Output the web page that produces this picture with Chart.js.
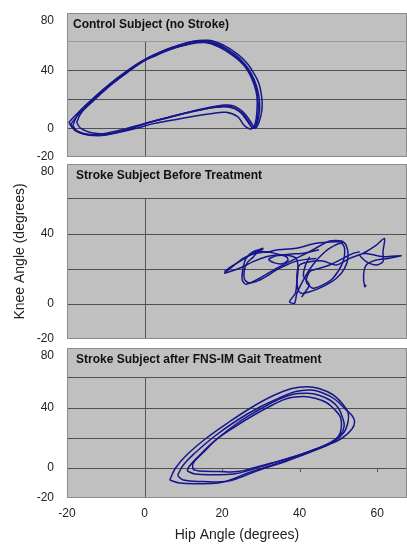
<!DOCTYPE html>
<html><head><meta charset="utf-8">
<script src="https://cdn.jsdelivr.net/npm/chart.js@4.4.1/dist/chart.umd.min.js"></script>
<style>
html,body{margin:0;padding:0;background:#fff;overflow:hidden;width:407px;height:544px;}
canvas{position:absolute;left:0;}
</style></head><body>
<canvas id="c1" width="407" height="170" style="top:0px"></canvas>
<canvas id="c2" width="407" height="195" style="top:155px"></canvas>
<canvas id="c3" width="407" height="204" style="top:340px"></canvas>
<script>
// ---- axis ticks ----
const yTickValues = [-20, 0, 20, 40, 60, 80];
const yLabelValues = [-20, 0, 40, 80];
const yGridValues = [0, 20, 40, 60];
const xTickValues = [-20, 0, 20, 40, 60];

// ---- panel titles ----
const panelTitles = [
  'Control Subject (no Stroke)',
  'Stroke Subject Before Treatment',
  'Stroke Subject after FNS-IM Gait Treatment'
];

// ---- Control subject: hip/knee cycles [hip, knee] ----
const control1 = [[-19,3],[-18,-1.5],[-15.5,-4],[-12,-5],[-8,-3.5],[-4,-0.5],[0,3],[5,6.5],[10,10],[15,13],[19.5,15],[22.5,15],[25,11],[27,4],[28,0],[29,3],[29.7,13],[29.5,22],[28.8,30],[27.5,38],[26,44],[23.5,51],[20,57],[16,60.5],[12,59],[7,55],[3,50.5],[0,47],[-5,37.5],[-10,27],[-14,17],[-17,9.5],[-19,3]];
const control2 = [[-18.5,2],[-17.5,-2],[-15,-4.5],[-11,-5],[-7,-3],[-3,0],[1,4],[6,7.5],[11,11],[16,14],[20,16],[23,15.5],[25.5,11],[27.5,4],[28.5,0],[29.5,4],[30.3,13],[30.2,22],[29.5,31],[28,39],[26.5,45],[24,51.5],[20.5,57.5],[16.5,61],[12,60],[7,56],[3,51.5],[0,47.5],[-5,38.5],[-10,28],[-14,18.5],[-17,10.5],[-18.5,2]];
const control3 = [[-17.5,4],[-16.5,0],[-14,-3],[-10,-4],[-6,-2.5],[-2,0],[2,3],[7,5.5],[12,8],[17,10],[21,11],[24,8],[25.8,1.6],[27.5,-0.5],[28.5,3],[29,12],[29,22],[28.3,30],[27,38],[25.5,44],[23,50],[19.5,56],[15.5,59.5],[11,58],[6,54.5],[2,49.5],[-1,45.5],[-6,36],[-11,25],[-14.5,16.5],[-16.5,10],[-17.5,4]];
const control4 = [[-19.5,4],[-18.5,0],[-16,-3.5],[-13,-4.5],[-9,-3],[-5,-0.5],[-1,2.5],[4,6],[9,9.5],[14,12.5],[18.5,14.5],[22,14.5],[24.5,11.5],[26.5,5],[27.8,0.5],[28.8,3],[29.3,12],[29.2,21],[28.6,30],[27.2,38.5],[25.5,45],[22.5,52],[18.5,58],[14,60.5],[9.5,58],[5,54],[1,49],[-2,44.5],[-7,35],[-11.5,25],[-15,16.5],[-18,8.5],[-19.5,4]];

// ---- Stroke subject before treatment: scribbled trace [hip, knee] ----
const before1 = [[20.6,17.5],[25.4,26.1],[30.5,31.4],[28.0,29.9],[26.2,26.1],[25.4,20.4],[25.2,13.7],[26.2,11.3],[29.7,14.7],[34.0,20.4],[37.4,24.2],[42.6,29.9],[47.7,36.0],[50.8,36.0],[52.0,33.7],[52.5,27.0],[51.6,20.4],[49.5,14.7],[46.0,9.9],[42.6,7.0],[40.4,6.1],[39.6,8.0],[39.3,16.6],[40.0,22.3],[42.6,24.2],[46.0,24.6],[49.5,22.3],[52.9,26.1],[56.3,28.9],[59.8,33.7],[61.9,37.5],[61.5,29.9],[61.5,24.2],[59.8,22.3],[57.2,24.2],[55.5,28.0],[57.2,28.9],[61.5,27.0],[66.2,27.6],[63.2,26.1],[59.8,25.1],[57.2,22.3],[56.5,16.6],[56.8,9.9],[57.2,10.9]];
const before2 = [[20.6,17.5],[24.5,20.4],[28.0,24.2],[31.4,27.0],[34.0,28.0],[36.6,28.0],[39.1,26.1],[39.6,20.4],[39.3,12.8],[38.9,6.1],[37.4,1.3],[38.7,0.4],[39.3,6.1],[41.7,16.6],[43.4,22.3],[45.2,27.0],[47.7,31.8],[50.8,34.7],[51.6,31.8],[51.2,24.2],[48.6,14.7],[46.0,10.9],[43.4,9.0],[41.7,12.8],[42.6,18.5],[45.2,20.4],[47.7,22.3],[51.2,26.1],[53.8,28.9],[55.5,29.9]];
const before3 = [[27.1,28.0],[29.7,29.9],[32.3,29.9],[34.0,30.9],[39.1,31.8],[44.3,34.7],[49.5,35.6],[51.2,35.3]];
const before4 = [[20.6,18.5],[22.8,22],[25.8,26],[28.5,29.5],[30.5,31.8],[29.2,29.9],[27.9,26.5],[26.7,24.2],[25.8,20],[25.8,14],[27,12],[29.5,13.5],[32.3,17],[34.4,20],[36.6,22.3],[39.1,24.5],[41.7,25.5],[44.3,26]];
const before5 = [[27.9,28.5],[30.5,29.5],[32.3,29.5],[34.4,28.5],[36.6,27],[37,25],[35.5,23],[33.5,23.5],[32,25.5],[34,27.5],[37.4,28.5],[41,29],[45,31]];
const before6 = [[42.6,27],[41.5,22],[41,16],[42.5,11],[41.5,7],[40.5,4]];

// ---- Stroke subject after FNS-IM gait treatment: cycles [hip, knee] ----
const after1 = [[6.5,-8],[9,-10],[14,-10.5],[19,-10],[22,-8],[27,-3],[33,2],[39,7],[45,13],[49,18],[51.5,24],[52.5,31],[52.5,37],[51,43],[48.5,49],[45,53],[42,54.2],[38,53],[33,48],[28,41],[22,31],[16,20],[11,9],[8,0],[6.5,-8]];
const after2 = [[8.5,-5],[10,-8],[15,-9],[21,-9],[25,-6],[30,-1],[36,4],[42,10],[47,15],[51,20],[53.5,26],[54.2,31],[53.5,35],[51.5,40],[49,46],[46,50],[43,52],[39,51],[35,47],[30,41],[24,32],[18,21],[13,10],[10,2],[8.5,-5]];
const after3 = [[12.5,-1],[14,-2],[19,-2.3],[24,-2.4],[28,0],[33,3.5],[39,8],[44,12.5],[48,17],[50.5,22],[51.5,28],[51,34],[50,40],[48,45],[45,48.5],[42,49.8],[38,49],[34,45],[29,38],[24,30],[19,20],[15,10],[12.5,3],[12.5,-1]];
const after4 = [[11,-2],[13,-4],[18,-4.5],[23,-4],[27,-1.5],[32,2.5],[38,7],[43,11.5],[47.5,16],[50,21],[50.8,28],[50.5,34],[49,39],[47,43.5],[44,46.5],[41,47.6],[37,46.5],[33,42],[28,35],[23,27],[18,18],[14,8],[11.5,1],[11,-2]];

const FONT = '"Liberation Sans", Arial, Helvetica, sans-serif';
const LINE = 'rgb(22,22,140)';

const panelPlugin = {
  id: 'panel',
  beforeDraw(chart, args, o) {
    const {ctx, chartArea: a} = chart;
    ctx.save();
    ctx.fillStyle = '#c0c0c0';
    ctx.fillRect(a.left, a.top, a.right - a.left, a.bottom - a.top);
    ctx.restore();
  },
  beforeDatasetsDraw(chart, args, o) {
    const {ctx, chartArea: a, scales} = chart;
    const x = scales.x, y = scales.y;
    ctx.save();
    ctx.strokeStyle = '#555';
    ctx.lineWidth = 1;
    const x0 = Math.round(x.getPixelForValue(0)) + 0.5;
    ctx.beginPath();
    ctx.moveTo(x0, y.getPixelForValue(60));
    ctx.lineTo(x0, y.getPixelForValue(-20));
    ctx.stroke();
    if (o.zeroTicks) {
      const yz = Math.round(y.getPixelForValue(0));
      ctx.beginPath();
      xTickValues.forEach(v => {
        if (v === 0) return;
        const px = Math.round(x.getPixelForValue(v)) + 0.5;
        ctx.moveTo(px, yz); ctx.lineTo(px, yz + 4);
      });
      ctx.stroke();
    }
    ctx.strokeStyle = '#8c8c8c';
    ctx.strokeRect(a.left + 0.5, a.top + 0.5, a.right - a.left - 1, a.bottom - a.top - 1);
    ctx.fillStyle = '#111';
    ctx.font = 'bold 12px ' + FONT;
    ctx.textBaseline = 'middle';
    ctx.textAlign = 'left';
    ctx.fillText(o.title, a.left + o.dx, a.top + o.dy);
    ctx.restore();
  }
};

function series(list, tension) {
  return list.map(pts => ({
    data: pts.map(p => ({x: p[0], y: p[1]})),
    showLine: true, pointRadius: 0, borderColor: LINE, borderWidth: 1.5,
    tension: tension, fill: false
  }));
}

function yAxis(opts) {
  return {
    type: 'linear', min: -20, max: 80,
    afterBuildTicks: s => { s.ticks = yTickValues.map(v => ({value: v})); },
    afterFit: s => { s.width = 67; s.paddingTop = 0; s.paddingBottom = 0; },
    grid: {
      drawTicks: false, lineWidth: 1,
      color: c => yGridValues.includes(c.tick.value) ? ((opts.lightTop && c.tick.value === 60) ? '#9a9a9a' : '#505050') : 'rgba(0,0,0,0)'
    },
    border: {display: false},
    ticks: {
      padding: 13, color: '#222', autoSkip: false,
      font: {family: FONT, size: 12},
      callback: v => v === 80 ? ['', '80'] : (yLabelValues.includes(v) ? String(v) : '')
    },
    title: opts.title ? {
      display: true, text: opts.title, color: '#222',
      font: {family: FONT, size: 14}, padding: {top: 12, bottom: 0}
    } : {display: false}
  };
}

function xAxis(show) {
  return {
    type: 'linear', min: -20, max: 67.7,
    display: show,
    afterBuildTicks: s => { s.ticks = xTickValues.map(v => ({value: v})); },
    afterFit: s => { if (show) s.height = 46; s.paddingLeft = 0; s.paddingRight = 0; },
    grid: {display: false, drawTicks: false},
    border: {display: false},
    ticks: {padding: 8, color: '#222', autoSkip: false, maxRotation: 0, font: {family: FONT, size: 12}},
    title: show ? {
      display: true, text: 'Hip Angle (degrees)', color: '#222',
      font: {family: FONT, size: 14}, padding: {top: 0, bottom: 0}
    } : {display: false}
  };
}

function make(id, data, tension, pad, panelOpts, yOpts, showX) {
  new Chart(document.getElementById(id), {
    type: 'scatter',
    data: {datasets: series(data, tension)},
    options: {
      responsive: false, animation: false, devicePixelRatio: 1,
      layout: {padding: pad},
      plugins: {legend: {display: false}, tooltip: {enabled: false}, panel: panelOpts},
      scales: {x: xAxis(showX), y: yAxis(yOpts)}
    },
    plugins: [panelPlugin]
  });
}

make('c1', [control1, control2, control3, control4], 0.4, {top: 13, bottom: 13, left: 0, right: 0},
  {title: panelTitles[0], dx: 6, dy: 12}, {lightTop: true}, false);
make('c2', [before1, before2, before3, before4, before5, before6], 0.25, {top: 9, bottom: 11, left: 0, right: 0},
  {title: panelTitles[1], dx: 9, dy: 12}, {title: 'Knee Angle (degrees)'}, false);
make('c3', [after1, after2, after3, after4], 0.4, {top: 8, bottom: 0, left: 0, right: 0},
  {title: panelTitles[2], dx: 9, dy: 12, zeroTicks: true}, {}, true);
</script>
</body></html>
